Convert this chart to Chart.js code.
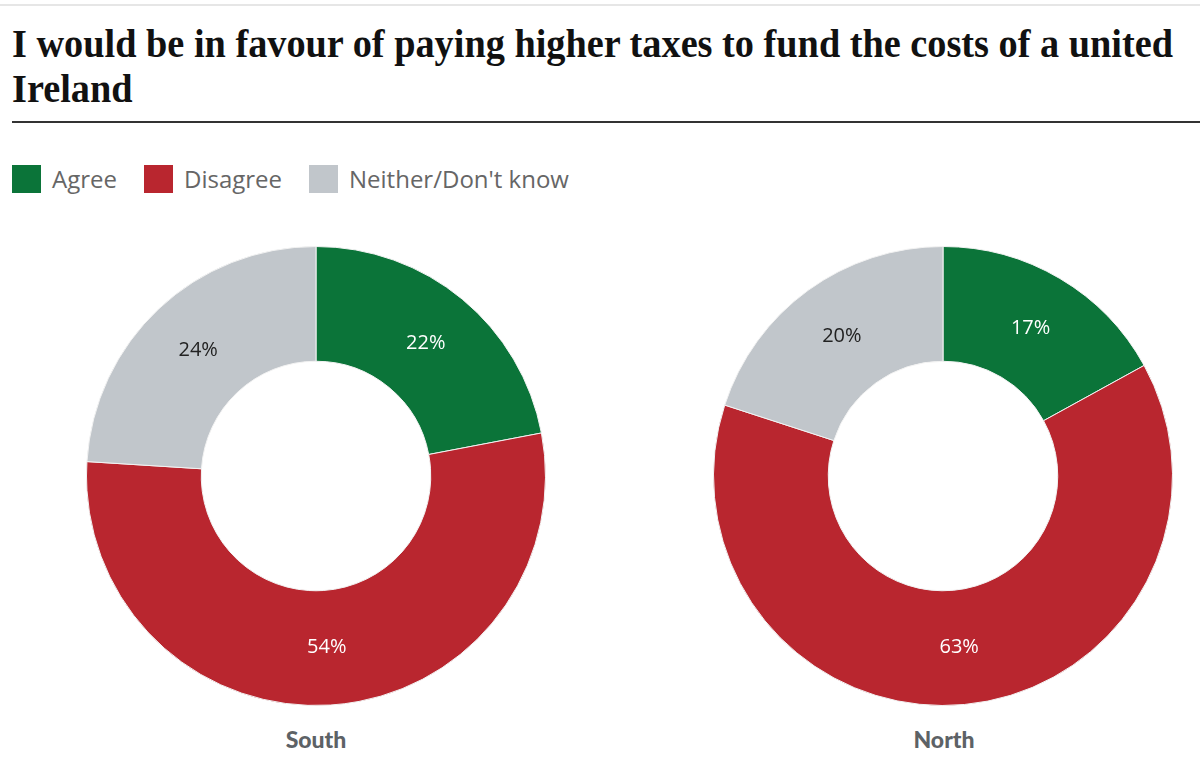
<!DOCTYPE html>
<html>
<head>
<meta charset="utf-8">
<script src="https://cdn.jsdelivr.net/npm/chart.js@4.4.0/dist/chart.umd.min.js"></script>
<style>
  html, body { margin: 0; padding: 0; background: #fff; }
  body { width: 1200px; height: 781px; position: relative; overflow: hidden; font-family: "Open Sans", sans-serif; }
  .topline { position: absolute; left: 0; top: 4px; width: 1200px; height: 2px; background: #e6e6e6; }
  .title { position: absolute; left: 12px; top: 21px; font-family: "Liberation Serif", serif; font-weight: bold; font-size: 40px; line-height: 45px; color: #111; white-space: nowrap; transform-origin: 0 0; }
  .rule { position: absolute; left: 12px; top: 121px; width: 1188px; height: 2px; background: #333; }
  .legend { position: absolute; left: 12px; top: 165px; display: flex; align-items: center; font-size: 24px; line-height: 28px; color: #666; }
  .legend .item { display: flex; align-items: center; margin-right: 27px; }
  .legend .sw { width: 29px; height: 28px; margin-right: 11px; }
  .pie { position: absolute; width: 460px; height: 460px; }
  .region { position: absolute; top: 725px; width: 300px; text-align: center; font-family: Lato, sans-serif; font-weight: 900; font-size: 23px; color: #5d6266; }
</style>
</head>
<body>
<div class="topline"></div>
<div class="title" id="title">I would be in favour of paying higher taxes to fund the costs of a united<br>Ireland</div>
<div class="rule"></div>
<div class="legend" id="legend"></div>
<div class="pie" style="left:86px;top:246px"><canvas id="southChart" width="460" height="460"></canvas></div>
<div class="pie" style="left:713px;top:246px"><canvas id="northChart" width="460" height="460"></canvas></div>
<div class="region" style="left:166px" id="southLabel"></div>
<div class="region" style="left:794px" id="northLabel"></div>

<script>
// Answer categories, clockwise from the top
const categories = ['Agree', 'Disagree', "Neither/Don't know"];
const southValues = [22, 54, 24];
const northValues = [17, 63, 20];
const regions = ['South', 'North'];
const colours = ['#0b7439', '#b9262f', '#c1c6cb'];
const labelColours = ['#ffffff', '#ffffff', '#222222'];

// Squeeze the first title line to the measured width
const title = document.getElementById('title');
const widthTarget = 1161;
const probe = document.createElement('span');
probe.style.cssText = 'font-family:"Liberation Serif",serif;font-weight:bold;font-size:40px;white-space:nowrap;position:absolute;visibility:hidden';
probe.textContent = title.innerHTML.split('<br>')[0];
document.body.appendChild(probe);
title.style.transform = 'scaleX(' + (widthTarget / probe.getBoundingClientRect().width) + ')';
probe.remove();

// Legend
const legend = document.getElementById('legend');
categories.forEach((c, i) => {
    const item = document.createElement('div');
    item.className = 'item';
    item.innerHTML = '<span class="sw" style="background:' + colours[i] + '"></span><span>' + c + '</span>';
    legend.appendChild(item);
});

document.getElementById('southLabel').textContent = regions[0];
document.getElementById('northLabel').textContent = regions[1];

// Value labels in the middle of each slice
const sliceLabels = {
    id: 'sliceLabels',
    afterDatasetsDraw(chart) {
        const ctx = chart.ctx;
        const meta = chart.getDatasetMeta(0);
        ctx.save();
        ctx.font = '20px "Open Sans", sans-serif';
        ctx.textAlign = 'center';
        ctx.textBaseline = 'middle';
        meta.data.forEach((arc, i) => {
            const p = arc.getCenterPoint();
            ctx.fillStyle = labelColours[i];
            ctx.fillText(chart.data.datasets[0].data[i] + '%', p.x, p.y);
        });
        ctx.restore();
    }
};

function makeDonut(id, values) {
    return new Chart(document.getElementById(id), {
        type: 'doughnut',
        data: {
            labels: categories,
            datasets: [{
                data: values,
                backgroundColor: colours,
                borderColor: '#f2f2f2',
                borderWidth: 1
            }]
        },
        options: {
            responsive: false,
            animation: false,
            cutout: '50%',
            layout: { padding: 0 },
            plugins: {
                legend: { display: false },
                tooltip: { enabled: false }
            }
        },
        plugins: [sliceLabels]
    });
}

makeDonut('southChart', southValues);
makeDonut('northChart', northValues);
</script>
</body>
</html>
